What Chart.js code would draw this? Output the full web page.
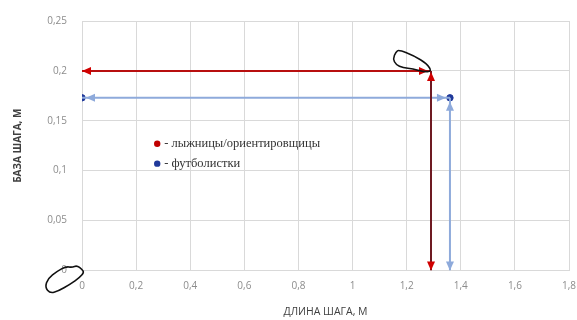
<!DOCTYPE html>
<html>
<head>
<meta charset="utf-8">
<script src="https://cdn.jsdelivr.net/npm/chart.js@4/dist/chart.umd.min.js"></script>
<style>
  html, body { margin: 0; padding: 0; background: #fff; }
  #wrap { width: 577px; height: 320px; }
</style>
</head>
<body>
<div id="wrap"><canvas id="chart" width="577" height="320"></canvas></div>
<script>
// groups and their mean values (step length / step base, m)
const groups = ["лыжницы/ориентировщицы", "футболистки"];
const stepLength = [1.29, 1.36];
const stepBase = [0.2, 0.173];
const xTicks = [0, 0.2, 0.4, 0.6, 0.8, 1, 1.2, 1.4, 1.6, 1.8];
const yTicks = [0, 0.05, 0.1, 0.15, 0.2, 0.25];

const lineColors = ["#b80f0f", "#8eaadb"];
const vertColors = ["#6e1a22", "#8eaadb"];
const headColors = ["#d00000", "#8eaadb"];
const dotColors = ["#c00000", "#20399a"];

const comma = v => String(Math.round(v * 100) / 100).replace(".", ",");

// hand-drawn marks on the original picture (data coordinates)
const px2x = p => (p - 82) / 270.6;
const px2y = p => (270 - p) / 1004;
const scribbles = [
  [[399,48],[414,54],[427,62],[432,70],[423,70],[413,67],[403,66],[396,63],[393,57],[396,50]],
  [[82,269],[77,265],[72,267],[66,266],[57,271],[48,278],[45,287],[50,293],[58,291],[70,284],[80,277],[84,272]]
].map(s => s.map(p => ({ x: px2x(p[0]), y: px2y(p[1]) })));

const datasets = [];
groups.forEach((g, i) => {
  datasets.push({
    label: g + " h", type: "line",
    data: [{ x: 0, y: stepBase[i] }, { x: stepLength[i], y: stepBase[i] }],
    borderColor: lineColors[i], borderWidth: 2, pointRadius: 0,
    arrow: { color: headColors[i], inset: i === 1 ? [4, 4] : [0, 3] }
  });
  datasets.push({
    label: g + " v", type: "line",
    data: [{ x: stepLength[i], y: stepBase[i] }, { x: stepLength[i], y: 0 }],
    borderColor: vertColors[i], borderWidth: 2, pointRadius: 0,
    arrow: { color: headColors[i], inset: i === 1 ? [4, 0] : [1, 0] }
  });
});
groups.forEach((g, i) => {
  datasets.push({
    label: g, type: "scatter",
    data: i === 1 ? [{ x: 0, y: stepBase[i] }, { x: stepLength[i], y: stepBase[i] }] : [],
    backgroundColor: dotColors[i], borderColor: dotColors[i],
    pointRadius: 3.2, pointHoverRadius: 3.2
  });
});

const arrows = {
  id: "arrows",
  afterDatasetsDraw(chart) {
    const ctx = chart.ctx;
    chart.data.datasets.forEach((ds, di) => {
      if (!ds.arrow) return;
      const pts = chart.getDatasetMeta(di).data;
      const ends = [[pts[1], pts[0], ds.arrow.inset[0]], [pts[0], pts[1], ds.arrow.inset[1]]];
      ends.forEach(([a, b, inset]) => {
        const ang = Math.atan2(b.y - a.y, b.x - a.x);
        const tx = b.x - Math.cos(ang) * inset, ty = b.y - Math.sin(ang) * inset;
        const L = 9, W = 4;
        ctx.save();
        ctx.translate(tx, ty);
        ctx.rotate(ang);
        ctx.fillStyle = ds.arrow.color;
        ctx.beginPath();
        ctx.moveTo(0, 0);
        ctx.lineTo(-L, -W);
        ctx.lineTo(-L, W);
        ctx.closePath();
        ctx.fill();
        ctx.restore();
      });
    });
  },
  afterDraw(chart) {
    const ctx = chart.ctx, x = chart.scales.x, y = chart.scales.y;
    // legend inside the plot
    ctx.save();
    ctx.font = "12.5px 'Liberation Serif', serif";
    ctx.textBaseline = "middle";
    groups.forEach((g, i) => {
      const lx = x.getPixelForValue(0.278), ly = y.getPixelForValue(0.127 - i * 0.02);
      ctx.fillStyle = dotColors[i];
      ctx.beginPath();
      ctx.arc(lx, ly, 3.2, 0, Math.PI * 2);
      ctx.fill();
      ctx.fillStyle = "#333";
      ctx.fillText("- " + g, lx + 7, ly);
    });
    // hand-drawn scribbles
    ctx.strokeStyle = "#111";
    ctx.lineWidth = 1.6;
    scribbles.forEach(s => {
      const p = s.map(q => [x.getPixelForValue(q.x), y.getPixelForValue(q.y)]);
      ctx.beginPath();
      const n = p.length;
      const mid = k => [(p[k % n][0] + p[(k + 1) % n][0]) / 2, (p[k % n][1] + p[(k + 1) % n][1]) / 2];
      let m = mid(0);
      ctx.moveTo(m[0], m[1]);
      for (let k = 1; k <= n; k++) {
        const c = p[k % n], e = mid(k);
        ctx.quadraticCurveTo(c[0], c[1], e[0], e[1]);
      }
      ctx.closePath();
      ctx.stroke();
    });
    ctx.restore();
  }
};

new Chart(document.getElementById("chart"), {
  type: "scatter",
  data: { datasets },
  options: {
    responsive: false,
    animation: false,
    layout: { padding: { top: 13, right: 0, left: 8, bottom: 0 } },
    plugins: { legend: { display: false }, tooltip: { enabled: false } },
    scales: {
      x: {
        type: "linear", min: 0, max: 1.8,
        afterBuildTicks: s => { s.ticks = xTicks.map(v => ({ value: v })); },
        afterFit: s => { s.paddingRight = 8; },
        grid: { color: "#d9d9d9", drawTicks: false },
        border: { color: "#d9d9d9" },
        ticks: {
          padding: 10, color: "#8c8c8c",
          font: { family: "'Open Sans', sans-serif", size: 10 },
          callback: v => comma(v)
        },
        title: {
          display: true, text: "ДЛИНА ШАГА, М", color: "#404040",
          font: { family: "'Open Sans', sans-serif", size: 10.5 },
          padding: { top: 3, bottom: 2 }
        }
      },
      y: {
        type: "linear", min: 0, max: 0.25,
        afterBuildTicks: s => { s.ticks = yTicks.map(v => ({ value: v })); },
        afterFit: s => { s.width = 74; },
        grid: { color: "#d9d9d9", drawTicks: false },
        border: { color: "#d9d9d9" },
        ticks: {
          padding: 15, color: "#8c8c8c",
          font: { family: "'Open Sans', sans-serif", size: 10 },
          callback: v => comma(v)
        },
        title: {
          display: true, text: "БАЗА ШАГА, М", color: "#404040",
          font: { family: "'Open Sans', sans-serif", size: 10, weight: "bold" }
        }
      }
    }
  },
  plugins: [arrows]
});
</script>
</body>
</html>
